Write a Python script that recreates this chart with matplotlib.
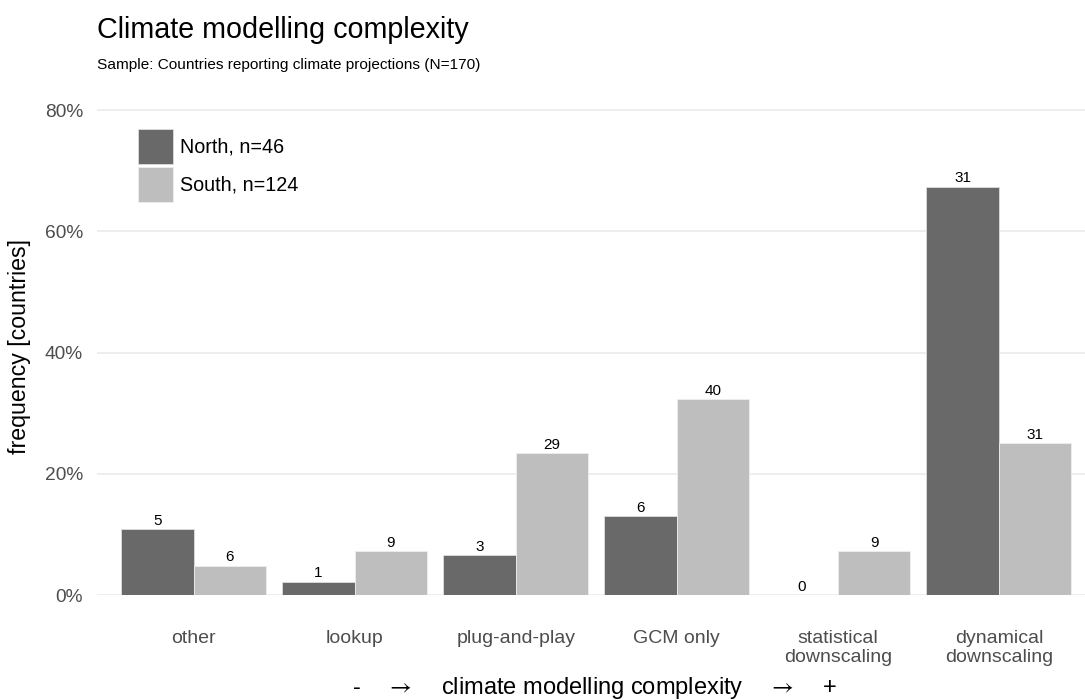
import numpy as np
import matplotlib
matplotlib.use("Agg")
import matplotlib.pyplot as plt
from matplotlib.ticker import FuncFormatter

plt.rcParams['font.family'] = ['Liberation Sans', 'DejaVu Sans']
plt.rcParams['mathtext.fontset'] = 'stix'

# dane
kategorie = ['other', 'lookup', 'plug-and-play', 'GCM only',
             'statistical\ndownscaling', 'dynamical\ndownscaling']
north = [5, 1, 3, 6, 0, 31]
south = [6, 9, 29, 40, 9, 31]
n_north = 46
n_south = 124
kolor_north = '#696969'
kolor_south = '#BEBEBE'

fig = plt.figure(figsize=(10.85, 7), dpi=100)
ax = fig.add_axes([97 / 1085, 1 - 595 / 700, 1 - 97 / 1085, 0.71])

x = np.arange(len(kategorie))
w = 0.45
frac_n = np.array(north) / n_north
frac_s = np.array(south) / n_south

b1 = ax.bar(x - w / 2, frac_n, width=w, color=kolor_north, edgecolor='#dddddd',
            linewidth=0.6, label=f'North, n={n_north}', zorder=2)
b2 = ax.bar(x + w / 2, frac_s, width=w, color=kolor_south, edgecolor='#eeeeee',
            linewidth=0.6, label=f'South, n={n_south}', zorder=2)

# etykiety liczebności
for bars, vals in ((b1, north), (b2, south)):
    for b, v in zip(bars, vals):
        ax.annotate(str(v), (b.get_x() + b.get_width() / 2, b.get_height()),
                    xytext=(0, 1), textcoords='offset points',
                    ha='center', va='bottom', fontsize=11, color='black')

ax.set_xlim(-0.6, 5.535)
ax.set_ylim(0, 0.82)
ax.set_yticks([0, 0.2, 0.4, 0.6, 0.8])
ax.yaxis.set_major_formatter(FuncFormatter(lambda v, p: f'{v * 100:.0f}%'))
ax.set_xticks(x)
ax.set_xticklabels(kategorie, linespacing=1.15)
ax.tick_params(axis='both', length=0, labelcolor='#4D4D4D')
ax.tick_params(axis='x', pad=25, labelsize=14)
ax.tick_params(axis='y', pad=10, labelsize=13.8)
ax.grid(axis='y', color='#EBEBEB', linewidth=1.2, zorder=0)
ax.set_axisbelow(True)
for s in ax.spines.values():
    s.set_visible(False)

ax.set_ylabel('frequency [countries]', fontsize=16.7, labelpad=10)

fig.text(595 / 1085, 1 - 688 / 700,
         r'-    $\rightarrow$    climate modelling complexity    $\rightarrow$    +',
         ha='center', va='center', fontsize=17)

fig.text(97 / 1085, 1 - 30 / 700, 'Climate modelling complexity',
         ha='left', va='center', fontsize=20.7)
fig.text(97 / 1085, 1 - 65 / 700,
         'Sample: Countries reporting climate projections (N=170)',
         ha='left', va='center', fontsize=11.1)

ax.legend(loc='upper left', bbox_to_anchor=(138 / 1085, 1 - 129 / 700),
          bbox_transform=fig.transFigure, frameon=False, fontsize=14.2,
          handlelength=1.78, handleheight=2.36, handletextpad=0.35,
          labelspacing=0.15, borderpad=0, borderaxespad=0)

fig.savefig('out.png', dpi=100)
